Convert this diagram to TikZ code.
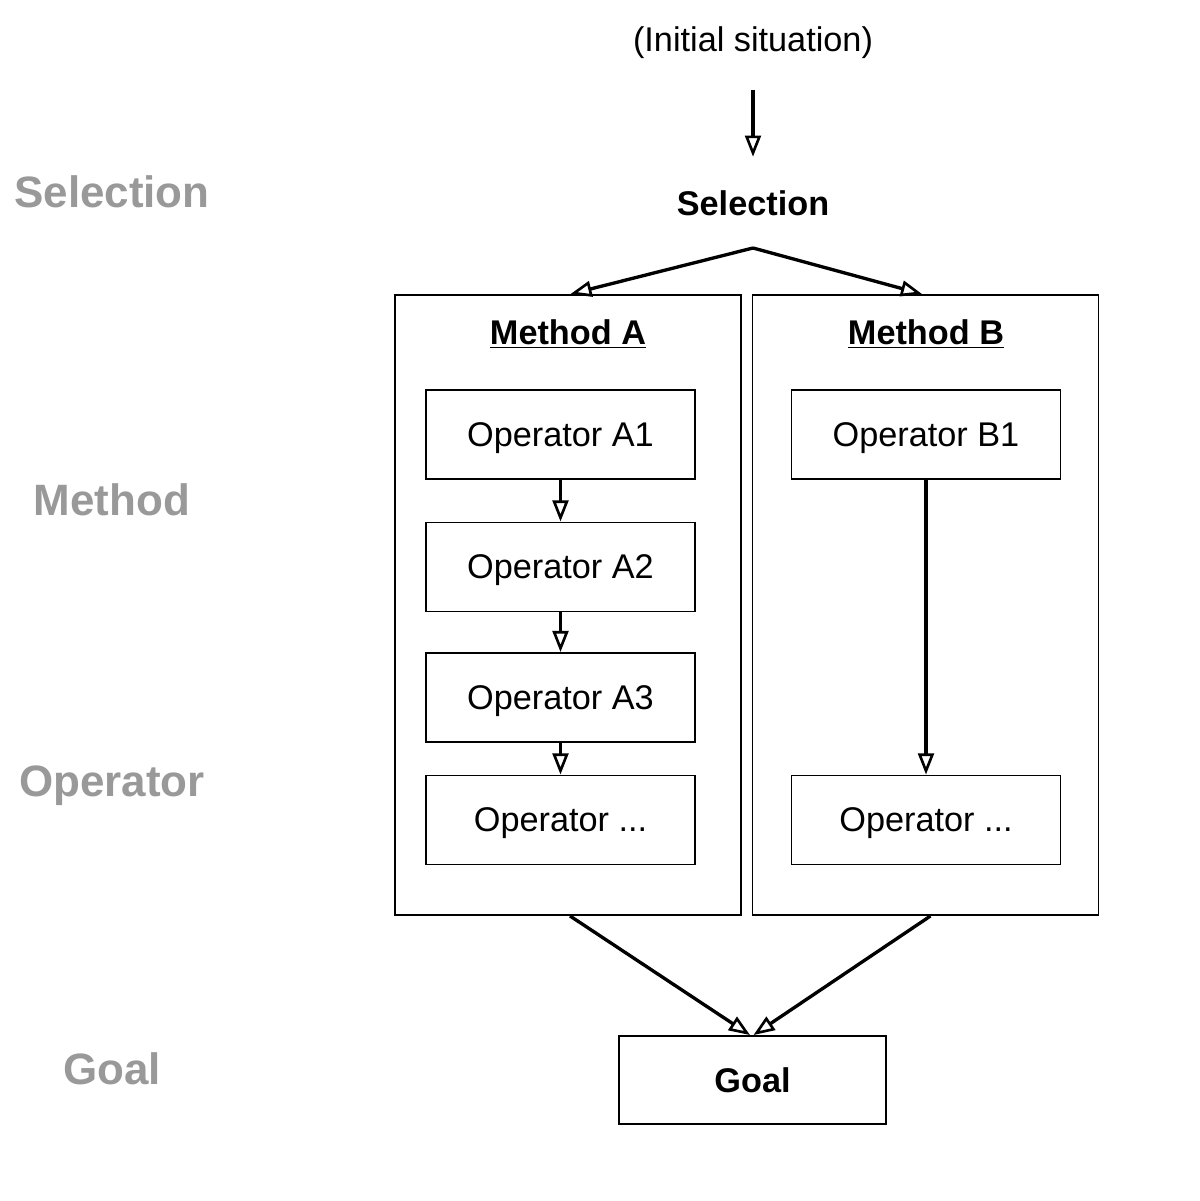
\documentclass[tikz,border=0pt]{standalone}
\usepackage{fontspec}
\setmainfont{Liberation Sans}
\usetikzlibrary{arrows.meta}
\definecolor{lblgray}{gray}{0.6}
\tikzset{
  opbox/.style={draw, line width=1.1pt, minimum width=5.38cm, minimum height=1.78cm, text depth=0pt, font=\fontsize{19.5}{22}\selectfont},
  methbox/.style={draw, line width=1.1pt, minimum width=6.92cm, minimum height=12.4cm},
  arr/.style={-{Triangle[open, length=12pt, width=9pt, line width=1.5pt]}, line width=1.9pt},
  lvl/.style={text=lblgray, font=\fontsize{25}{28}\selectfont\bfseries}
}
\begin{document}
\begin{tikzpicture}
    \useasboundingbox (0, 0) rectangle (24, 24.02);

    % levels on the left
    \node[lvl] (lsel) at (2.24, 20.18) {Selection};
    \node[lvl] (lmeth) at (2.24, 14.02) {Method};
    \node[lvl] (lop) at (2.24, 8.3) {Operator};
    \node[lvl] (lgoal) at (2.24, 2.64) {Goal};

    \node[font=\fontsize{19.5}{22}\selectfont] (init) at (15.06, 23.16) {(Initial situation)};
    \node[font=\fontsize{19.5}{22}\selectfont\bfseries] (sel) at (15.06, 19.96) {Selection};
    \coordinate (apex) at (15.06, 19.06);

    \node[methbox] (boxA) at (11.36, 11.92) {};
    \node[methbox] (boxB) at (18.51, 11.92) {};
    \node[font=\fontsize{19.5}{22}\selectfont\bfseries] (titA) at (11.36, 17.34) {\underline{Method A}};
    \node[font=\fontsize{19.5}{22}\selectfont\bfseries] (titB) at (18.52, 17.34) {\underline{Method B}};

    \pgfmathsetmacro{\xa}{11.21};
    \pgfmathsetmacro{\xb}{18.52};
    \node[opbox] (A1) at (\xa, 15.33) {Operator A1};
    \node[opbox] (A2) at (\xa, 12.68) {Operator A2};
    \node[opbox] (A3) at (\xa, 10.07) {Operator A3};
    \node[opbox] (A4) at (\xa, 7.62) {Operator ...};
    \node[opbox] (B1) at (\xb, 15.33) {Operator B1};
    \node[opbox] (B4) at (\xb, 7.62) {Operator ...};

    \node[opbox, minimum width=5.34cm, minimum height=1.76cm, font=\fontsize{19.5}{22}\selectfont\bfseries] (goal) at (15.05, 2.42) {Goal};

    \draw[arr] ([yshift=-0.5cm]init.south) -- ([yshift=0.55cm]sel.north);
    \draw[arr] (apex) -- ([xshift=0.05cm]boxA.north);
    \draw[arr] (apex) -- ([xshift=-0.07cm]boxB.north);
    \draw[arr] (A1) -- (A2);
    \draw[arr] (A2) -- (A3);
    \draw[arr] (A3) -- (A4);
    \draw[arr] (B1) -- (B4);
    \draw[arr] ([xshift=0.04cm]boxA.south) -- ([xshift=-0.05cm]goal.north);
    \draw[arr] ([xshift=0.1cm]boxB.south) -- ([xshift=0.02cm]goal.north);
\end{tikzpicture}
\end{document}
